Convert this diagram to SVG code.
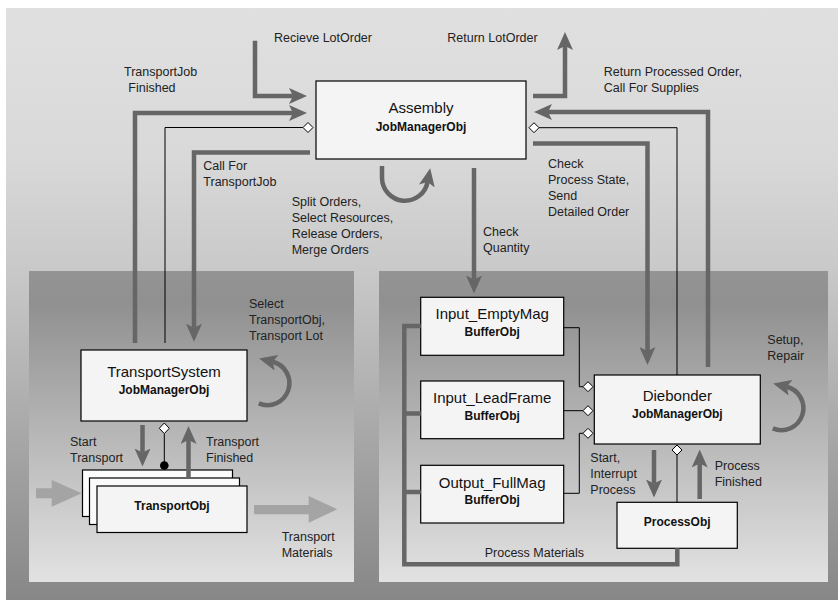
<svg xmlns="http://www.w3.org/2000/svg" width="838" height="600" viewBox="0 0 838 600">
<defs>
<linearGradient id="gOuter" x1="0" y1="0" x2="0" y2="1">
<stop offset="0" stop-color="#e0e0e0"/>
<stop offset="0.25" stop-color="#d9d9d9"/>
<stop offset="0.33" stop-color="#d2d2d2"/>
<stop offset="0.43" stop-color="#cacaca"/>
<stop offset="1" stop-color="#878787"/>
</linearGradient>
<linearGradient id="gInner" x1="0" y1="0" x2="0" y2="1">
<stop offset="0" stop-color="#949494"/>
<stop offset="0.1" stop-color="#909090"/>
<stop offset="1" stop-color="#e2e2e2"/>
</linearGradient>
<marker id="ah" markerWidth="18" markerHeight="16" refX="4" refY="8" orient="auto" markerUnits="userSpaceOnUse">
<path d="M0,0 L18,8 L0,16 L4,8 Z" fill="#666"/>
</marker>
<style>
.box{fill:#f4f4f4;stroke:#000;stroke-width:1.2}
.thick{fill:none;stroke:#666;stroke-width:4.5}
.arr{fill:none;stroke:#666;stroke-width:4.5;marker-end:url(#ah)}
.thin{fill:none;stroke:#000;stroke-width:1}
.dia{fill:#fff;stroke:#000;stroke-width:1}
.lbl{font-family:"Liberation Sans",Arial,sans-serif;font-size:12.5px;fill:#222}
.title{font-family:"Liberation Sans",Arial,sans-serif;font-size:15px;fill:#111;text-anchor:middle}
.cls{font-family:"Liberation Sans",Arial,sans-serif;font-size:12px;font-weight:bold;fill:#111;text-anchor:middle}
.big{fill:#a4a4a4}
</style>
</defs>

<rect x="6" y="8" width="832" height="592" fill="url(#gOuter)"/>
<rect x="29" y="271" width="325" height="311" fill="url(#gInner)"/>
<rect x="379" y="271" width="449" height="311" fill="url(#gInner)"/>

<g id="assembly">
<rect class="box" x="316" y="81" width="210" height="78"/>
<text class="title" x="421" y="113">Assembly</text>
<text class="cls" x="421" y="131">JobManagerObj</text>
</g>

<g id="transportsystem">
<rect class="box" x="81" y="350" width="166" height="71"/>
<text class="title" x="164" y="377">TransportSystem</text>
<text class="cls" x="164" y="393.5">JobManagerObj</text>
</g>

<g id="transportobj">
<rect class="box" x="82.5" y="470" width="150" height="46.5" style="fill:#fcfcfc"/>
<rect class="box" x="89.5" y="478" width="150" height="46.5" style="fill:#fafafa"/>
<rect class="box" x="97" y="486" width="150" height="46.5"/>
<text class="cls" x="172" y="510">TransportObj</text>
</g>

<g id="input_emptymag">
<rect class="box" x="420.7" y="297.3" width="143" height="58"/>
<text class="title" x="492.2" y="319">Input_EmptyMag</text>
<text class="cls" x="492.2" y="336">BufferObj</text>
</g>

<g id="input_leadframe">
<rect class="box" x="420.7" y="381" width="143" height="57.7"/>
<text class="title" x="492.2" y="403">Input_LeadFrame</text>
<text class="cls" x="492.2" y="419.5">BufferObj</text>
</g>

<g id="output_fullmag">
<rect class="box" x="420.7" y="465.3" width="143" height="57.7"/>
<text class="title" x="492.2" y="488">Output_FullMag</text>
<text class="cls" x="492.2" y="503.5">BufferObj</text>
</g>

<g id="diebonder">
<rect class="box" x="594.3" y="375" width="166" height="69"/>
<text class="title" x="677.3" y="401">Diebonder</text>
<text class="cls" x="677.3" y="418">JobManagerObj</text>
</g>

<g id="processobj">
<rect class="box" x="617" y="502.3" width="120.3" height="46"/>
<text class="cls" x="677.2" y="526">ProcessObj</text>
</g>

<g id="connectors">
<path class="arr" d="M255,40.7 V96 H293"/>
<path class="arr" d="M135,343 V113 H293"/>
<path class="thin" d="M165,343 V127.5 H303"/>
<path class="dia" d="M303,127.5 L308,122.5 L313,127.5 L308,132.5 Z"/>
<path class="arr" d="M310,152.5 H194 V327.7"/>
<path class="arr" d="M533,96 H565 V46"/>
<path class="arr" d="M708,367 V112 H548"/>
<path class="thin" d="M539,127.7 H677 V375"/>
<path class="dia" d="M529,127.7 L534,122.7 L539,127.7 L534,132.7 Z"/>
<path class="arr" d="M533,143.5 H647.5 V351"/>
<path class="arr" d="M474,168 V279.5"/>
<path class="arr" d="M382,166 V178 A23,23 0 0 0 427.6,182"/>
<path class="arr" d="M258.8,403.4 A22,22 0 1 0 272.7,361.8"/>
<path class="arr" d="M142.5,425 V452.5"/>
<path class="arr" d="M188.5,478 V440"/>
<path class="thin" d="M164.3,434 V465"/>
<path class="dia" d="M164.3,423 L169.3,428.3 L164.3,433.6 L159.3,428.3 Z"/>
<circle cx="164.3" cy="465.5" r="4.3" fill="#000"/>
<path class="big" d="M36,488.3 H51.7 V480 L81.7,493.3 L51.7,506.7 V498.3 H36 Z"/>
<path class="big" d="M254,505 H308.7 V496 L337.3,509.3 L308.7,522.7 V514.3 H254 Z"/>
<path class="arr" d="M772.8,428.4 A22,22 0 1 0 786.7,386.8"/>
<path class="thin" d="M563.7,327.7 H579.3 V386.7 H583"/>
<path class="thin" d="M563.7,410.7 H583"/>
<path class="thin" d="M563.7,493.3 H579.3 V433.3 H583"/>
<path class="dia" d="M583,386.7 L588,381.7 L593,386.7 L588,391.7 Z"/>
<path class="dia" d="M583,410.7 L588,405.7 L593,410.7 L588,415.7 Z"/>
<path class="dia" d="M583,433.3 L588,428.3 L593,433.3 L588,438.3 Z"/>
<path class="arr" d="M654,450 V483.5"/>
<path class="arr" d="M699.7,499 V463.5"/>
<path class="thin" d="M677,455 V502.3"/>
<path class="dia" d="M677,445 L682,450 L677,455 L672,450 Z"/>
<path class="thick" d="M677.3,548.3 V564.3 H404.3 V326 H420.7"/>
<path class="thick" d="M404.3,413.5 H420.7 M404.3,492 H420.7"/>
</g>

<g id="labels">
<text class="lbl" x="274" y="42">Recieve LotOrder</text>
<text class="lbl" x="447.3" y="42">Return LotOrder</text>
<text class="lbl" x="124" y="76">TransportJob</text>
<text class="lbl" x="128.3" y="92">Finished</text>
<text class="lbl" x="603.7" y="76">Return Processed Order,</text>
<text class="lbl" x="603.7" y="92">Call For Supplies</text>
<text class="lbl" x="203.3" y="170">Call For</text>
<text class="lbl" x="203.3" y="186">TransportJob</text>
<text class="lbl" x="291.7" y="206">Split Orders,</text>
<text class="lbl" x="291.7" y="222">Select Resources,</text>
<text class="lbl" x="291.7" y="238">Release Orders,</text>
<text class="lbl" x="291.7" y="254">Merge Orders</text>
<text class="lbl" x="548" y="168">Check</text>
<text class="lbl" x="548" y="184">Process State,</text>
<text class="lbl" x="548" y="200">Send</text>
<text class="lbl" x="548" y="216">Detailed Order</text>
<text class="lbl" x="483" y="236">Check</text>
<text class="lbl" x="483" y="252">Quantity</text>
<text class="lbl" x="249" y="308">Select</text>
<text class="lbl" x="249" y="324">TransportObj,</text>
<text class="lbl" x="249" y="340">Transport Lot</text>
<text class="lbl" x="70" y="446">Start</text>
<text class="lbl" x="70" y="462">Transport</text>
<text class="lbl" x="206" y="446">Transport</text>
<text class="lbl" x="206" y="462">Finished</text>
<text class="lbl" x="281.7" y="541">Transport</text>
<text class="lbl" x="281.7" y="557">Materials</text>
<text class="lbl" x="767.3" y="344">Setup,</text>
<text class="lbl" x="767.3" y="360">Repair</text>
<text class="lbl" x="590.3" y="462">Start,</text>
<text class="lbl" x="590.3" y="478">Interrupt</text>
<text class="lbl" x="590.3" y="494">Process</text>
<text class="lbl" x="714.7" y="470">Process</text>
<text class="lbl" x="714.7" y="486">Finished</text>
<text class="lbl" x="484.7" y="557">Process Materials</text>
</g>
</svg>
